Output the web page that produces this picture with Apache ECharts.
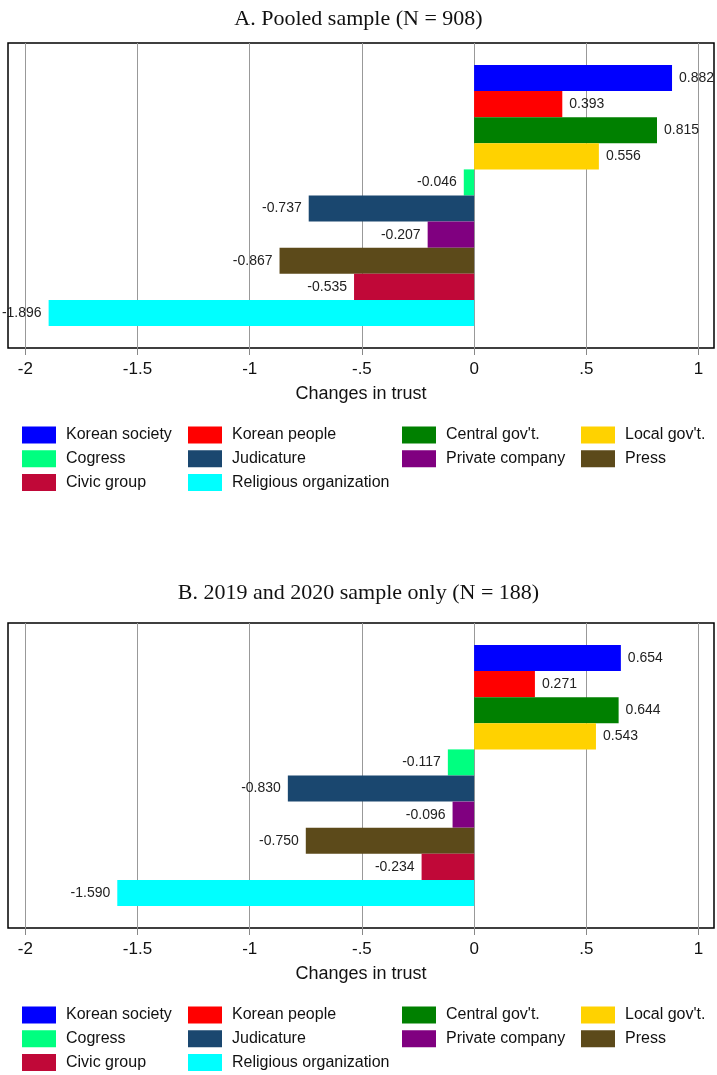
<!DOCTYPE html>
<html>
<head>
<meta charset="utf-8">
<script src="https://cdn.jsdelivr.net/npm/echarts@6/dist/echarts.min.js"></script>
<style>
html,body{margin:0;padding:0;background:#fff;}
#chart{width:717px;height:1075px;}
</style>
</head>
<body>
<div id="chart"></div>
<script>
var categories = ["Korean society","Korean people","Central gov't.","Local gov't.","Cogress","Judicature","Private company","Press","Civic group","Religious organization"];
var colors = ["#0000FF","#FF0000","#008000","#FFD200","#00FF80","#1A476F","#800080","#5C4A1A","#C00838","#00FFFF"];
var valuesA = [0.882, 0.393, 0.815, 0.556, -0.046, -0.737, -0.207, -0.867, -0.535, -1.896];
var valuesB = [0.654, 0.271, 0.644, 0.543, -0.117, -0.830, -0.096, -0.750, -0.234, -1.590];
var tickValues = [-2, -1.5, -1, -0.5, 0, 0.5, 1];
var titleA = "A. Pooled sample (N = 908)";
var titleB = "B. 2019 and 2020 sample only (N = 188)";
var axisTitle = "Changes in trust";
var legendColumns = [
  ["Korean society","Cogress","Civic group"],
  ["Korean people","Judicature","Religious organization"],
  ["Central gov't.","Private company"],
  ["Local gov't.","Press"]
];

var XMIN = -2.077, XMAX = 1.069;
var SANS = "'Liberation Sans', Arial, Helvetica, sans-serif";
var SERIF = "'Liberation Serif', 'Times New Roman', serif";

function fmtTick(v){
  if (v === 0) return '0';
  var s = String(Math.abs(v)).replace(/^0/, '');
  return (v < 0 ? '-' : '') + s;
}

var chart = echarts.init(document.getElementById('chart'), null, {renderer:'canvas'});

var panels = [
  {values: valuesA, title: titleA, frameTop: 43, barTop: 65, titleTop: 3, legendTop: 426.5},
  {values: valuesB, title: titleB, frameTop: 623, barTop: 645, titleTop: 577, legendTop: 1006.5}
];

var grids = [], xAxes = [], yAxes = [], series = [], titles = [], legends = [];
var legendLefts = [22, 188, 402, 581];

panels.forEach(function(p, pi){
  var gFrame = grids.length;
  grids.push({left: 8, right: 3, top: p.frameTop, height: 305, show: true, borderColor: '#000', borderWidth: 1.5, backgroundColor: 'transparent', containLabel: false});
  var gBars = grids.length;
  grids.push({left: 8, right: 3, top: p.barTop, height: 261, show: false, containLabel: false});

  xAxes.push({
    type: 'value', gridIndex: gFrame, min: XMIN, max: XMAX,
    axisLine: {show: false},
    axisTick: {show: true, customValues: tickValues, length: 7, lineStyle: {color: '#888', width: 1}},
    axisLabel: {show: true, customValues: tickValues, formatter: fmtTick, margin: 13, fontSize: 17, color: '#111', fontFamily: SANS},
    splitLine: {show: true, lineStyle: {color: '#999', width: 1}},
    name: axisTitle, nameLocation: 'middle', nameGap: 37,
    nameTextStyle: {fontSize: 18, color: '#111', fontFamily: SANS}
  });
  xAxes.push({
    type: 'value', gridIndex: gBars, min: XMIN, max: XMAX, show: false,
    splitLine: {show: false}
  });
  yAxes.push({type: 'value', gridIndex: gFrame, show: false, splitLine: {show: false}});
  yAxes.push({type: 'category', gridIndex: gBars, data: categories, inverse: true, show: false});

  var xi = xAxes.length - 1, yi = yAxes.length - 1;
  categories.forEach(function(name, i){
    var data = categories.map(function(_, j){ return j === i ? p.values[i] : '-'; });
    var v = p.values[i];
    series.push({
      type: 'bar', name: name, xAxisIndex: xi, yAxisIndex: yi,
      stack: 'panel' + pi, barCategoryGap: '0%', barWidth: '100%',
      itemStyle: {color: colors[i]},
      data: data,
      label: {
        show: true, position: v >= 0 ? 'right' : 'left', distance: 7,
        fontSize: 14, color: '#222', fontFamily: SANS,
        formatter: function(prm){ return Number(prm.value).toFixed(3); }
      },
      emphasis: {disabled: true},
      animation: false
    });
  });

  titles.push({
    text: p.title, left: 'center', top: p.titleTop,
    textStyle: {fontSize: 22, fontWeight: 'normal', color: '#111', fontFamily: SERIF}
  });

  legendColumns.forEach(function(col, ci){
    legends.push({
      orient: 'vertical', left: legendLefts[ci], top: p.legendTop,
      itemWidth: 34, itemHeight: 17, itemGap: 6.7, icon: 'rect',
      selectedMode: false, data: col, padding: 0,
      textStyle: {fontSize: 16, color: '#111', fontFamily: SANS, padding: [0,0,0,5]}
    });
  });
});

chart.setOption({
  animation: false,
  backgroundColor: '#fff',
  title: titles,
  grid: grids,
  xAxis: xAxes,
  yAxis: yAxes,
  legend: legends,
  series: series
});
</script>
</body>
</html>
